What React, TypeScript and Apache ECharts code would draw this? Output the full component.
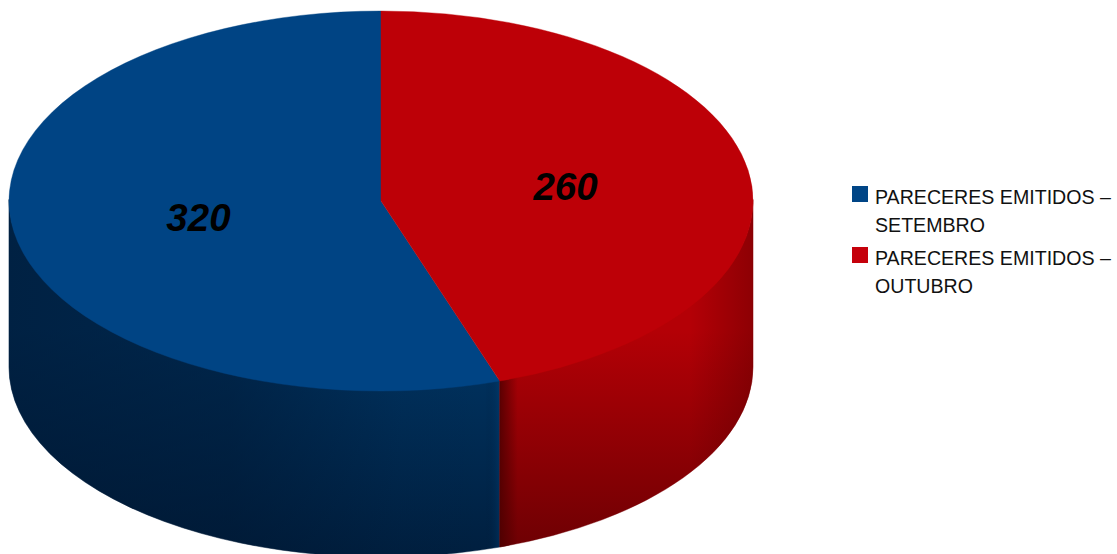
import React, { useEffect, useRef } from "react";
import * as echarts from "echarts";

const seriesNames = ["PARECERES EMITIDOS –\nSETEMBRO", "PARECERES EMITIDOS –\nOUTUBRO"];
const seriesValues = [320, 260];
const topColors = ["#004484", "#bd0007"];
const legendColors = ["#004586", "#c5000b"];

const CX = 381, CY = 201, RX = 372, RY = 190, DEPTH = 166;
const total = seriesValues.reduce((a, b) => a + b, 0);

const pt = (deg: number, dy = 0, f = 1): [number, number] => {
  const t = (deg * Math.PI) / 180;
  return [CX + RX * f * Math.sin(t), CY + dy - RY * f * Math.cos(t)];
};

const linear = (x: number, y: number, x2: number, y2: number, stops: [number, string][]) => ({
  type: "linear", x, y, x2, y2, global: true,
  colorStops: stops.map(([offset, color]) => ({ offset, color })),
});

const X0 = CX - RX, X1 = CX + RX;
const sideFills = [
  [
    linear(0, 330, 0, 554, [[0, "#003564"], [1, "#001f3f"]]),
    linear(X0, 0, 500, 0, [[0, "rgba(0,20,45,0.6)"], [0.45, "rgba(0,20,45,0.45)"], [0.8, "rgba(0,20,45,0.05)"], [0.97, "rgba(0,20,45,0)"], [1, "rgba(0,70,130,0.35)"]]),
  ],
  [
    linear(0, 330, 0, 554, [[0, "#b40006"], [1, "#6c0003"]]),
    linear(500, 0, X1, 0, [[0, "rgba(70,0,0,0.75)"], [0.07, "rgba(70,0,0,0)"], [0.75, "rgba(70,0,0,0)"], [1, "rgba(70,0,0,0.35)"]]),
  ],
];

const renderSlice = (idx: number) => (_p: any, api: any) => {
  const value = api.value(0);
  const before = seriesValues.slice(0, idx).reduce((a, b) => a + b, 0);
  const end = (-before / total) * 360;
  const start = end - (value / total) * 360;
  const s = pt(start), e = pt(end);
  const large = end - start > 180 ? 1 : 0;
  const children: any[] = [];
  const a = Math.max(start + 360, 90), b = Math.min(end + 360, 270);
  if (b > a) {
    const t1 = pt(a), t2 = pt(b), b1 = pt(a, DEPTH), b2 = pt(b, DEPTH);
    const d = `M${t1[0]} ${t1[1] - 1.5}A${RX} ${RY} 0 0 1 ${t2[0]} ${t2[1] - 1.5}L${b2[0]} ${b2[1]}A${RX} ${RY} 0 0 0 ${b1[0]} ${b1[1]}Z`;
    sideFills[idx].forEach((fill) => {
      children.push({ type: "path", z2: 1, shape: { pathData: d }, style: { fill, stroke: fill, lineWidth: 0.4 } });
    });
  }
  children.push({
    type: "path",
    z2: 5,
    shape: { pathData: `M${CX} ${CY}L${s[0]} ${s[1]}A${RX} ${RY} 0 ${large} 1 ${e[0]} ${e[1]}Z` },
    style: { fill: topColors[idx], stroke: topColors[idx], lineWidth: 0.4 },
  });
  const m = pt((start + end) / 2, 0, 0.5);
  children.push({
    type: "text",
    z2: 10,
    x: m[0] + 1,
    y: m[1] + 1,
    style: {
      text: String(value),
      x: 0, y: 0,
      align: "center",
      verticalAlign: "middle",
      fill: "#000",
      font: "italic bold 38.5px 'Liberation Sans'",
    },
  });
  return { type: "group", children };
};

export default function App() {
  const ref = useRef<HTMLDivElement>(null);
  useEffect(() => {
    const chart = echarts.init(ref.current!, undefined, { renderer: "svg" });
    chart.setOption({
      animation: false,
      legend: {
        orient: "vertical",
        left: 852,
        top: 183,
        itemWidth: 16,
        itemHeight: 50,
        itemGap: 5,
        padding: 0,
        icon: "path://M0 0H16V16H0ZM0 50H16V50H0Z",
        selectedMode: false,
        textStyle: { fontFamily: "'Liberation Sans'", fontSize: 19.6, color: "#111", lineHeight: 28, padding: [0, 0, 0, 2] },
        data: seriesNames.map((name, i) => ({ name, itemStyle: { color: legendColors[i] } })),
      },
      series: seriesNames.map((name, i) => ({
        type: "custom",
        name,
        coordinateSystem: "none",
        silent: true,
        clip: false,
        itemStyle: { color: legendColors[i] },
        data: [[seriesValues[i]]],
        renderItem: renderSlice(i),
      })),
    });
    return () => chart.dispose();
  }, []);
  return <div ref={ref} style={{ width: 1117, height: 554, position: "fixed", left: 0, top: 0, background: "#fff" }} />;
}
